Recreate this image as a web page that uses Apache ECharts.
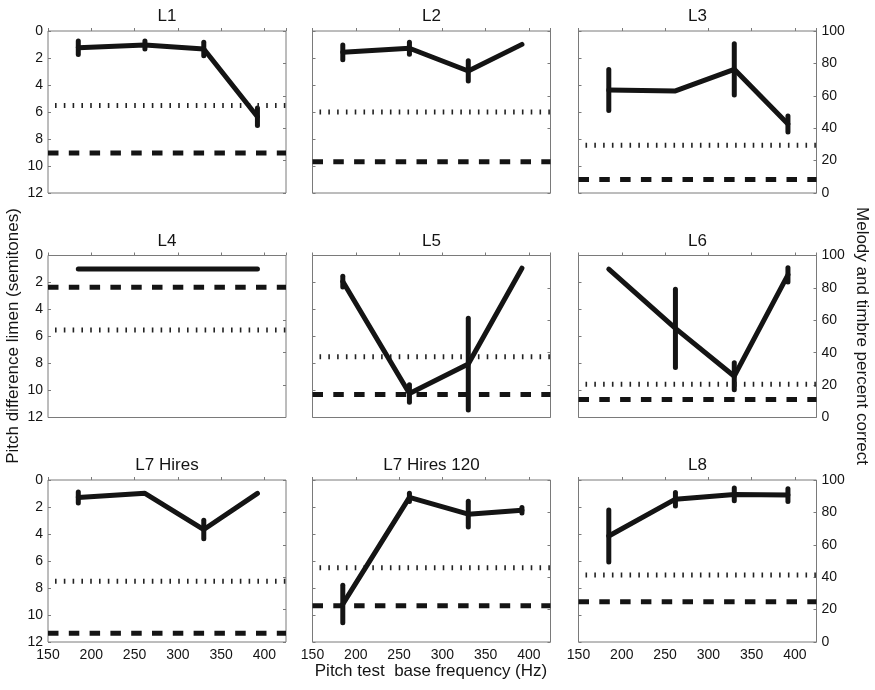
<!DOCTYPE html>
<html>
<head>
<meta charset="utf-8">
<script src="https://cdn.jsdelivr.net/npm/echarts@6/dist/echarts.min.js"></script>
<style>
html,body{margin:0;padding:0;background:#fff;}
#chart{width:875px;height:690px;}
</style>
</head>
<body>
<div id="chart"></div>
<script>
// ---- Data ----
const freqs = [185, 262, 330, 392];
const xTicks = [150, 200, 250, 300, 350, 400];
const leftTicks = [0, 2, 4, 6, 8, 10, 12];
const rightTicks = [0, 20, 40, 60, 80, 100];
const panelTitles = ['L1', 'L2', 'L3', 'L4', 'L5', 'L6', 'L7 Hires', 'L7 Hires 120', 'L8'];

// pitch difference limen (semitones), per panel, at each base frequency
const pdlL1 = [1.24, 1.04, 1.33, 6.35];
const pdlL2 = [1.58, 1.28, 2.96, 0.99];
const pdlL3 = [4.37, 4.44, 2.84, 6.89];
const pdlL4 = [1.0, 1.0, 1.0, 1.0];
const pdlL5 = [1.93, 10.22, 8.04, 0.94];
const pdlL6 = [1.01, 5.4, 8.94, 1.43];
const pdlL7H = [1.29, 0.99, 3.67, 0.99];
const pdlL7H120 = [9.19, 1.29, 2.53, 2.24];
const pdlL8 = [4.15, 1.42, 1.07, 1.12];

// error bar half-lengths (semitones); null = none
const errL1 = [0.5, 0.3, 0.5, 0.65];
const errL2 = [0.55, 0.45, 0.75, null];
const errL3 = [1.52, null, 1.9, 0.6];
const errL4 = [null, null, null, null];
const errL5 = [0.4, 0.65, 3.4, null];
const errL6 = [null, 2.9, 1.0, 0.53];
const errL7H = [0.41, null, 0.68, null];
const errL7H120 = [1.39, 0.3, 0.95, 0.2];
const errL8 = [1.92, 0.5, 0.47, 0.47];

// percent correct (right axis): dotted line and dashed line per panel
const dottedPct = [54, 50, 29.5, 54, 37.5, 20.6, 37.5, 45.8, 41.4];
const dashedPct = [24.7, 19.3, 8.3, 80.4, 14.2, 11.1, 5.4, 22.4, 24.8];

const pdl = [pdlL1, pdlL2, pdlL3, pdlL4, pdlL5, pdlL6, pdlL7H, pdlL7H120, pdlL8];
const errs = [errL1, errL2, errL3, errL4, errL5, errL6, errL7H, errL7H120, errL8];

// ---- Layout ----
const X_MIN = 150, X_MAX = 425;
const colLeft = [48, 312.5, 578.5];
const rowTop = [31, 255.5, 480];
const gw = 238, gh = 162;
const FONT = "'Liberation Sans', Arial, Helvetica, sans-serif";
const AX = '#7a7a7a';
const INK = '#141414';

const grids = [], xAxes = [], yAxes = [], series = [], titles = [];

for (let i = 0; i < 9; i++) {
  const r = Math.floor(i / 3), c = i % 3;
  grids.push({left: colLeft[c], top: rowTop[r], width: gw, height: gh,
    show: true, borderColor: AX, borderWidth: 1, backgroundColor: 'transparent', containLabel: false});
  titles.push({text: panelTitles[i], left: colLeft[c] + gw / 2, top: rowTop[r] - 23, textAlign: 'center', padding: 0,
    textStyle: {fontFamily: FONT, fontSize: 17, fontWeight: 'normal', color: INK}});
  xAxes.push({type: 'value', gridIndex: i, min: X_MIN, max: X_MAX, interval: 50,
    axisLine: {show: false}, splitLine: {show: false},
    axisTick: {show: true, inside: true, length: 3, lineStyle: {color: AX}},
    axisLabel: {show: r === 2, showMaxLabel: false, margin: 6, fontFamily: FONT, fontSize: 14, color: INK}});
  yAxes.push({type: 'value', gridIndex: i, position: 'left', inverse: true, min: 0, max: 12, interval: 2,
    axisLine: {show: false}, splitLine: {show: false},
    axisTick: {show: true, inside: true, length: 3, lineStyle: {color: AX}},
    axisLabel: {show: c === 0, margin: 5, fontFamily: FONT, fontSize: 14, color: INK}});
  yAxes.push({type: 'value', gridIndex: i, position: 'right', min: 0, max: 100, interval: 20,
    axisLine: {show: false}, splitLine: {show: false},
    axisTick: {show: true, inside: true, length: 3, lineStyle: {color: AX}},
    axisLabel: {show: c === 2, margin: 5, fontFamily: FONT, fontSize: 14, color: INK}});

  // dotted line (right axis)
  series.push({type: 'line', xAxisIndex: i, yAxisIndex: 2 * i + 1, symbol: 'none', silent: true,
    data: [[X_MIN, dottedPct[i]], [X_MAX, dottedPct[i]]],
    lineStyle: {color: '#222', width: 5, type: [1.6, 7.2], cap: 'butt', dashOffset: -7}});
  // dashed line (right axis)
  series.push({type: 'line', xAxisIndex: i, yAxisIndex: 2 * i + 1, symbol: 'none', silent: true,
    data: [[X_MIN, dashedPct[i]], [X_MAX, dashedPct[i]]],
    lineStyle: {color: INK, width: 5, type: [10.5, 10.3], cap: 'butt'}});
  // solid PDL line
  series.push({type: 'line', xAxisIndex: i, yAxisIndex: 2 * i, symbol: 'none', silent: true,
    data: freqs.map((f, k) => [f, pdl[i][k]]),
    lineStyle: {color: INK, width: 5, join: 'round', cap: 'round'}});
  // error bars
  const ebData = [];
  freqs.forEach((f, k) => {
    if (errs[i][k] != null) ebData.push([f, pdl[i][k] - errs[i][k], pdl[i][k] + errs[i][k]]);
  });
  series.push({type: 'custom', xAxisIndex: i, yAxisIndex: 2 * i, silent: true,
    encode: {x: 0, y: [1, 2]},
    data: ebData,
    renderItem: function (params, api) {
      const p1 = api.coord([api.value(0), api.value(1)]);
      const p2 = api.coord([api.value(0), api.value(2)]);
      return {type: 'line', shape: {x1: p1[0], y1: p1[1], x2: p2[0], y2: p2[1]},
        style: {stroke: INK, lineWidth: 5, lineCap: 'round'}};
    }});
}

const chart = echarts.init(document.getElementById('chart'), null, {renderer: 'canvas'});
chart.setOption({
  animation: false,
  backgroundColor: '#fff',
  title: titles,
  grid: grids,
  xAxis: xAxes,
  yAxis: yAxes,
  series: series,
  graphic: [
    {type: 'text', x: 13, y: 336, rotation: Math.PI / 2,
      style: {text: 'Pitch difference limen (semitones)', fontFamily: FONT, fontSize: 17, fill: INK,
        textAlign: 'center', textVerticalAlign: 'middle'}},
    {type: 'text', x: 862, y: 336, rotation: -Math.PI / 2,
      style: {text: 'Melody and timbre percent correct', fontFamily: FONT, fontSize: 17, fill: INK,
        textAlign: 'center', textVerticalAlign: 'middle'}},
    {type: 'text', x: 431, y: 671,
      style: {text: 'Pitch test  base frequency (Hz)', fontFamily: FONT, fontSize: 17, fill: INK,
        textAlign: 'center', textVerticalAlign: 'middle'}}
  ]
});
</script>
</body>
</html>
